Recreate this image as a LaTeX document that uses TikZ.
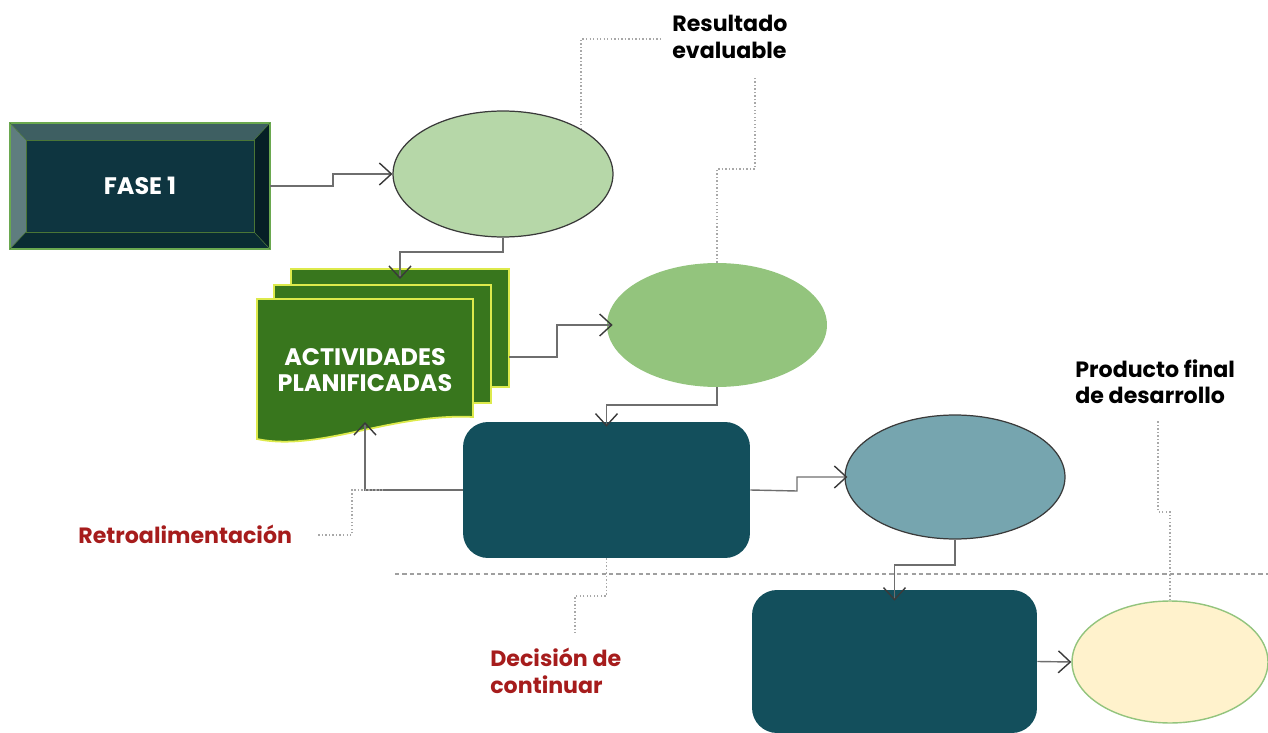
\documentclass[tikz,border=0pt]{standalone}
\usepackage{fontspec}
\setmainfont{Poppins}
\usetikzlibrary{arrows.meta,shapes.geometric,calc}

\definecolor{faseface}{HTML}{0E3540}
\definecolor{fasetop}{HTML}{3E5F62}
\definecolor{faseleft}{HTML}{5F7D7F}
\definecolor{fasebottom}{HTML}{0A2C33}
\definecolor{faseright}{HTML}{061F26}
\definecolor{faseedge}{HTML}{6AA84F}
\definecolor{docfill}{HTML}{38761D}
\definecolor{docedge}{HTML}{DDEA4C}
\definecolor{phaseA}{HTML}{B6D7A8}
\definecolor{phaseB}{HTML}{93C47D}
\definecolor{phaseC}{HTML}{76A5AF}
\definecolor{phaseD}{HTML}{FFF2CC}
\definecolor{stagefill}{HTML}{134F5C}
\definecolor{flowgray}{HTML}{6E6E6E}
\definecolor{tipgray}{HTML}{3A3A3A}
\definecolor{dotgray}{HTML}{A8A8A8}
\definecolor{tagred}{HTML}{A61C1C}

\tikzset{
  phase/.style={ellipse, inner sep=0pt, minimum width=4.4cm, minimum height=2.48cm},
  stage/.style={rectangle, rounded corners=0.5cm, fill=stagefill, minimum width=5.74cm, minimum height=2.72cm},
  flow/.style={draw=flowgray, line width=0.8pt, -{Straight Barb[length=2.4mm,width=4.4mm,color=tipgray]}},
  callout/.style={draw=dotgray, line width=0.7pt, dash pattern=on 0.8pt off 1.2pt},
  tag/.style={font=\bfseries\fontsize{12.6}{15}\selectfont, align=left, anchor=west, inner sep=0pt},
  boxtext/.style={font=\bfseries\fontsize{13.6}{15}\selectfont, text=white, align=center}
}

\begin{document}
\begin{tikzpicture}[x=0.02cm, y=-0.02cm]
  \useasboundingbox (0,0) rectangle (1268,733);

  %%%%% FASE 1 (bevel) %%%%%
  \fill[faseface] (26,140) rectangle (254,232);
  \fill[fasetop] (10,123) -- (270,123) -- (254,140) -- (26,140) -- cycle;
  \fill[faseleft] (10,123) -- (26,140) -- (26,232) -- (10,249) -- cycle;
  \fill[fasebottom] (10,249) -- (26,232) -- (254,232) -- (270,249) -- cycle;
  \fill[faseright] (270,123) -- (270,249) -- (254,232) -- (254,140) -- cycle;
  \draw[faseedge, line width=0.6pt] (10,123) rectangle (270,249);
  \draw[faseedge!70!black, line width=0.3pt] (26,140) rectangle (254,232);
  \draw[faseedge!70!black, line width=0.3pt] (10,123) -- (26,140) (270,123) -- (254,140)
    (10,249) -- (26,232) (270,249) -- (254,232);
  \node[boxtext, minimum width=5.2cm, minimum height=2.52cm] (fase) at (140,186) {FASE 1};

  %%%%% ACTIVIDADES (multi document) %%%%%
  \draw[fill=docfill, draw=docedge, line width=1pt] (291,269) rectangle (509,387);
  \draw[fill=docfill, draw=docedge, line width=1pt] (274,285) rectangle (491,403);
  \draw[fill=docfill, draw=docedge, line width=1pt] (257,299) -- (473,299) -- (473,417)
    .. controls (390,413) and (320,452) .. (257,439) -- cycle;
  \node[boxtext] (act) at (365,370) {ACTIVIDADES\\PLANIFICADAS};
  \coordinate (docin) at (400,279);
  \coordinate (docout) at (509,357);
  \coordinate (docfb) at (365,422);

  %%%%% ELLIPSES %%%%%
  \node[phase, fill=phaseA, draw=tipgray, line width=0.7pt, minimum height=2.52cm] (res1) at (503,174) {};
  \node[phase, fill=phaseB] (res2) at (717,325) {};
  \node[phase, fill=phaseC, draw=tipgray, line width=0.7pt] (res3) at (955,477) {};
  \node[phase, fill=phaseD, draw=phaseB, line width=0.8pt, minimum width=3.92cm, minimum height=2.44cm] (res4) at (1170,662) {};

  %%%%% STAGES %%%%%
  \node[stage] (stage1) at (606.5,490) {};
  \node[stage, minimum width=5.7cm, minimum height=2.86cm] (stage2) at (894.5,661.5) {};

  %%%%% DIVIDER %%%%%
  \draw[gray!75, line width=0.9pt, dash pattern=on 2.4pt off 1.8pt] (395,574) -- (1268,574);

  %%%%% FLOW %%%%%
  \draw[flow] (fase.east) -- (333,186) |- (res1.west);
  \draw[flow] (res1.south) -- (503,252) -| (docin);
  \draw[flow, shorten >=-0.12cm] (docout) -- (557,357) |- (res2.west);
  \draw[flow, shorten >=-0.1cm] (res2.south) -- (717,405) -| (stage1.north);
  \draw[flow] (stage1.west) -| (docfb);
  \draw[flow, shorten >=-0.06cm] (stage1.east) -- (797,491) |- (res3.west);
  \draw[flow, shorten >=-0.22cm] (res3.south) -- (955,565) -| (stage2.north);
  \draw[flow] (stage2.east) -- (res4.west);

  %%%%% LABELS %%%%%
  \node[tag] (lab1) at (672,37) {Resultado\\evaluable};
  \node[tag] (lab2) at (1075,382) {Producto final\\de desarrollo};
  \node[tag, text=tagred] (lab3) at (78,534) {Retroalimentación};
  \node[tag, text=tagred] (lab4) at (490,671) {Decisión de\\continuar};

  %%%%% CALLOUTS %%%%%
  \draw[callout] (res1.30) |- (660,39);
  \draw[callout] (res2.north) |- (755,169) -- (755,76);
  \draw[callout] (res4.north) |- (1158,512) -- (1158,420);
  \draw[callout] ($(lab3.east)+(26,1)$) -| (352,490) -- (383,490);
  \draw[callout] (stage1.south) |- (575,596) -- (575,633);
\end{tikzpicture}
\end{document}
